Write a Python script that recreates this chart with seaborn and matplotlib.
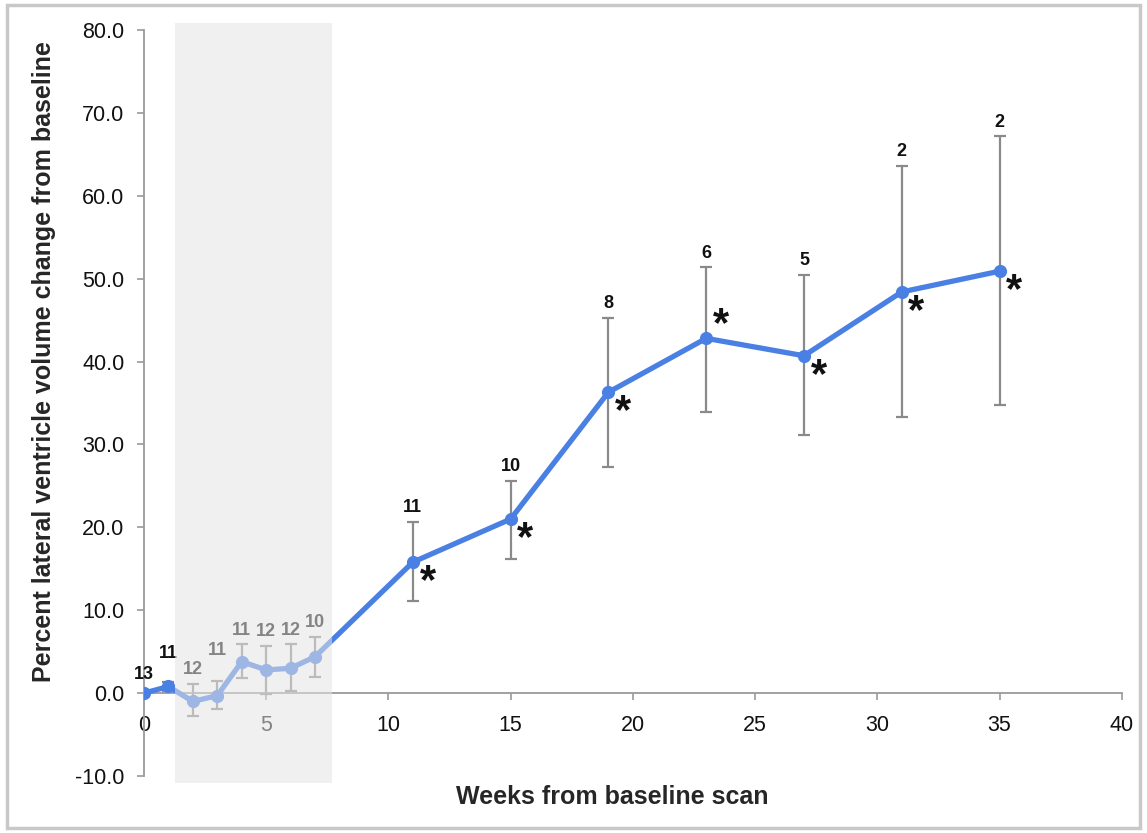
import numpy as np
import pandas as pd
import matplotlib
matplotlib.use('Agg')
import matplotlib.pyplot as plt
from matplotlib.patches import Rectangle
import seaborn as sns

# values
weeks = [0, 1, 2, 3, 4, 5, 6, 7, 11, 15, 19, 23, 27, 31, 35]
mean_change = [0.0, 0.8, -1.0, -0.3, 3.8, 2.8, 3.0, 4.4, 15.8, 21.0, 36.3, 42.8, 40.7, 48.4, 50.9]
upper = [0.0, 1.3, 1.1, 1.5, 5.9, 5.7, 5.9, 6.8, 20.7, 25.6, 45.3, 51.4, 50.5, 63.6, 67.2]
lower = [0.0, 0.3, -2.7, -1.9, 1.8, -0.1, 0.2, 2.0, 11.1, 16.2, 27.3, 33.9, 31.1, 33.3, 34.7]
n_subjects = [13, 11, 12, 11, 11, 12, 12, 10, 11, 10, 8, 6, 5, 2, 2]
significant = [0, 0, 0, 0, 0, 0, 0, 0, 1, 1, 1, 1, 1, 1, 1]
shade_start, shade_end = 1.27, 7.7

df = pd.DataFrame({'week': weeks, 'change': mean_change})
err_lo = np.array(mean_change) - np.array(lower)
err_hi = np.array(upper) - np.array(mean_change)

sns.set_style('white')
plt.rcParams['font.family'] = ['Liberation Sans', 'DejaVu Sans']

blue = '#4a80e3'
fig = plt.figure(figsize=(11.47, 8.33), dpi=100)
ax = fig.add_axes([0.1255, 0.0684, 0.8525, 0.8956])

ax.errorbar(weeks, mean_change, yerr=[err_lo, err_hi], fmt='none',
            ecolor='#8a8a8a', elinewidth=1.6, capsize=4.5, capthick=1.6, zorder=2)
sns.lineplot(data=df, x='week', y='change', ax=ax, color=blue, linewidth=3.8,
             marker='o', markersize=9.5, markeredgewidth=0, zorder=3)

# sample size labels above the error bars
extra_lift = {0: 0.6, 1: 1.8, 3: 2.0}
for i, (w, hi, n) in enumerate(zip(weeks, upper, n_subjects)):
    y = max(hi, mean_change[i]) + extra_lift.get(w, 0)
    ax.annotate(str(n), (w, y), xytext=(0, 4), textcoords='offset points',
                ha='center', va='bottom', fontsize=13, fontweight='bold',
                color='#111111', zorder=4)

# significance asterisks
star_dy = {23: 1.6}
for w, m, s in zip(weeks, mean_change, significant):
    if s:
        ax.text(w + 0.6, m + star_dy.get(w, -2.4), '*', ha='center', va='center',
                fontsize=30, fontweight='bold', color='#111111', zorder=4)

# grey shaded window drawn over the early points
ax.axvspan(shade_start, shade_end, ymin=-0.01, ymax=1.01, color='#e4e4e4',
           alpha=0.55, lw=0, zorder=10, clip_on=False)

ax.set_xlim(0, 40)
ax.set_ylim(-10, 80)
ax.set_xticks(range(0, 41, 5))
ax.set_yticks(range(-10, 81, 10))
ax.set_yticklabels([f'{v:.1f}' for v in range(-10, 81, 10)])

for side in ['top', 'right']:
    ax.spines[side].set_visible(False)
ax.spines['bottom'].set_position(('data', 0))
for side in ['left', 'bottom']:
    ax.spines[side].set_color('#9a9a9a')
    ax.spines[side].set_linewidth(1.3)
ax.tick_params(axis='both', left=True, bottom=True, direction='out', length=5,
               width=1.2, color='#9a9a9a', labelsize=15.5, labelcolor='#111111', pad=9)
ax.tick_params(axis='x', pad=11)

ax.set_xlabel('Weeks from baseline scan', fontsize=18, fontweight='bold')
ax.xaxis.set_label_coords(0.479, -0.012)
ax.set_ylabel('Percent lateral ventricle volume change from baseline',
              fontsize=18, fontweight='bold')
ax.yaxis.set_label_coords(-0.09, 0.555)

# outer frame around the whole chart
fig.patches.append(Rectangle((0.006, 0.006), 0.988, 0.988, transform=fig.transFigure,
                             fill=False, edgecolor='#c8c8c8', linewidth=2.5))

fig.savefig('out.png', dpi=100)
